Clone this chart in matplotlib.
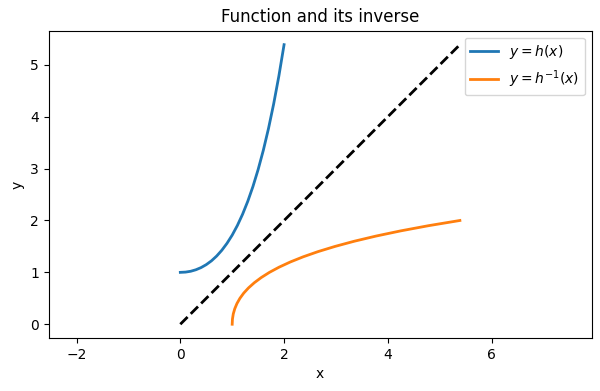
import matplotlib
matplotlib.use("Agg")
import matplotlib.pyplot as plt

# Values (blue curve samples)
x_vals = [0.0, 0.1, 0.2, 0.3, 0.4, 0.5, 0.6, 0.7, 0.8, 0.9, 1.0,
          1.1, 1.2, 1.3, 1.4, 1.5, 1.6, 1.7, 1.8, 1.9, 2.0]
h_vals = [1.000, 1.005, 1.021, 1.050, 1.092, 1.149, 1.222, 1.314, 1.426, 1.560, 1.718,
          1.904, 2.120, 2.369, 2.655, 2.982, 3.353, 3.774, 4.250, 4.786, 5.389]
diag = [0.0, 5.389]

fig = plt.figure(figsize=(6.0, 3.91), dpi=100)
ax = fig.add_axes([0.081, 0.135, 0.905, 0.7865])

ax.plot(x_vals, h_vals, color="#1f77b4", lw=2, label=r"$y = h(x)$")
ax.plot(h_vals, x_vals, color="#ff7f0e", lw=2, label=r"$y = h^{-1}(x)$")
ax.plot(diag, diag, "k--", lw=2)

ax.set_aspect("equal", adjustable="datalim")
ax.set_title("Function and its inverse")
ax.set_xlabel("x")
ax.set_ylabel("y")
ax.legend(loc="upper right")

fig.savefig("out.png", dpi=100)
